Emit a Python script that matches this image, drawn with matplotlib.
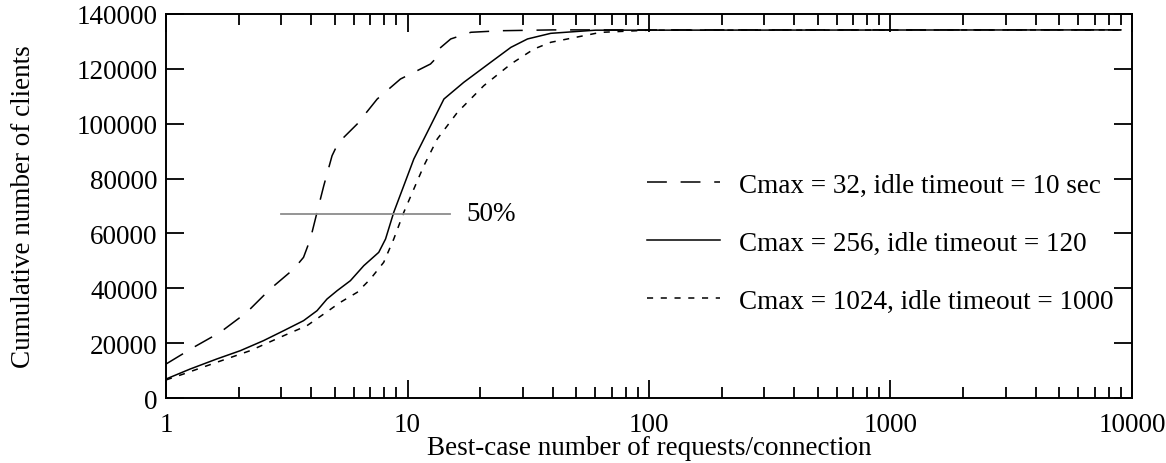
import matplotlib
matplotlib.use("Agg")
import matplotlib.pyplot as plt
from matplotlib.ticker import LogLocator, NullFormatter, FixedLocator

plt.rcParams["font.family"] = ["Liberation Serif", "DejaVu Serif"]
plt.rcParams["font.size"] = 19.5

# Data
x_32 = [1.0, 1.30, 1.675, 2.16, 2.70, 3.38, 3.71, 3.96, 4.22, 4.50, 4.87, 5.1,
        5.36, 6.19, 7.49, 9.35, 10.97, 12.45, 13.0, 13.6, 15.1, 18.3, 24.3, 40,
        9000]
y_32 = [12400, 18480, 23950, 31240, 39740, 47030, 51290, 57970, 67700, 77400,
        88340, 92000, 94430, 99900, 109000, 116300, 119340, 121770, 123500,
        127500, 130900, 133330, 133900, 134200, 134200]

x_256 = [1.0, 1.258, 1.62, 2.03, 2.53, 3.07, 3.71, 4.22, 4.64, 5.11, 5.80, 6.59,
         7.60, 8.11, 8.77, 9.65, 10.62, 12.07, 14.15, 17.1, 22.1, 26.8, 31.4,
         39.2, 60, 9000]
y_256 = [6930, 10570, 14220, 17260, 20900, 24550, 28200, 31840, 36090, 39130,
         42780, 48250, 53110, 57970, 67700, 77400, 87140, 96860, 109000, 115090,
         122390, 127840, 130900, 132950, 134100, 134200]

x_1024 = [1.0, 1.18, 1.62, 2.23, 3.07, 3.83, 4.50, 5.27, 6.19, 7.02, 7.97, 8.77,
          9.65, 10.62, 11.69, 13.28, 16.1, 20.7, 26.8, 33.4, 39.2, 63, 100, 9000]
y_1024 = [6600, 8750, 13010, 17260, 22720, 26360, 30630, 34890, 38540, 43390,
          49480, 57970, 67700, 76200, 84700, 94430, 104160, 113870, 121770,
          127240, 129680, 133300, 134100, 134200]

labels = ["Cmax = 32, idle timeout = 10 sec",
          "Cmax = 256, idle timeout = 120",
          "Cmax = 1024, idle timeout = 1000"]

half_x = [3.0, 15.0]
half_y = [67100, 67100]

fig = plt.figure(figsize=(11.66, 4.64), dpi=100)
ax = fig.add_axes([0.1424, 0.140, 0.8284, 0.8277])

ax.plot(x_32, y_32, color="black", lw=1.1, dashes=(13, 9), label=labels[0])
ax.plot(x_256, y_256, color="black", lw=1.1, label=labels[1])
ax.plot(x_1024, y_1024, color="black", lw=1.1, dashes=(4, 5), label=labels[2])

ax.plot(half_x, half_y, color="#8c8c8c", lw=1.3)
ax.text(17.5, half_y[0], "50%", va="center", ha="left")

ax.set_xscale("log")
ax.set_xlim(1, 10000)
ax.set_ylim(0, 140000)
ax.yaxis.set_major_locator(FixedLocator(range(0, 140001, 20000)))
ax.xaxis.set_major_locator(LogLocator(base=10))
ax.xaxis.set_minor_locator(LogLocator(base=10, subs=range(2, 10)))
ax.xaxis.set_minor_formatter(NullFormatter())
ax.xaxis.set_major_formatter(plt.FuncFormatter(lambda v, p: f"{int(round(v))}"))

ax.tick_params(which="both", direction="in", top=True, right=True, width=1.3)
ax.tick_params(which="major", length=13, pad=6)
ax.tick_params(which="minor", length=8)
ax.tick_params(axis="x", which="major", pad=10)
for s in ax.spines.values():
    s.set_linewidth(1.4)

ax.set_xlabel("Best-case number of requests/connection")
ax.set_ylabel("Cumulative number of clients")
ax.xaxis.set_label_coords(0.5, -0.096)
ax.yaxis.set_label_coords(-0.135, 0.5)

ax.legend(loc="center left", bbox_to_anchor=(0.498, 0.403), frameon=False,
          handlelength=2.7, handletextpad=0.7, labelspacing=1.22,
          borderaxespad=0, borderpad=0)

fig.savefig("out.png", dpi=100)
